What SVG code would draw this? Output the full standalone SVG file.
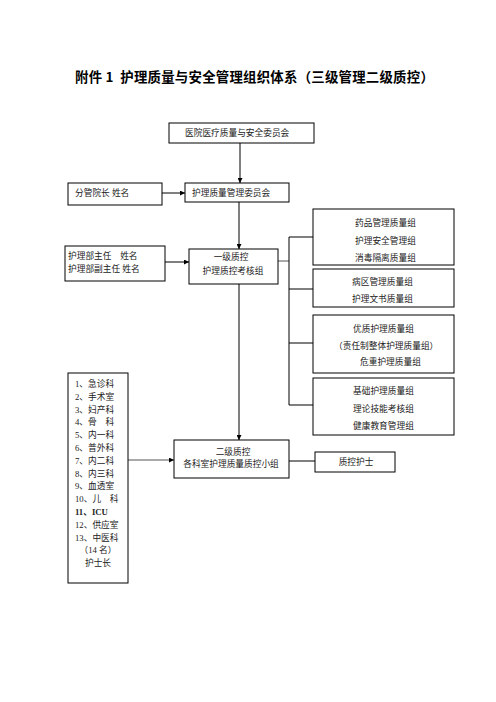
<svg xmlns="http://www.w3.org/2000/svg" width="496" height="702" viewBox="0 0 496 702">
<style>
.box{fill:#fff;stroke:#000;stroke-width:1}
.t{font-family:"Liberation Serif","Noto Sans CJK SC",serif;font-size:8.7px;fill:#222;dominant-baseline:central}
.c{text-anchor:middle}
.ln{stroke:#000;stroke-width:1;fill:none}
.lg{stroke:#555;stroke-width:1;fill:none}
.title{font-family:"Noto Sans CJK SC","Liberation Sans",sans-serif;font-size:13.4px;font-weight:bold;fill:#000;letter-spacing:0.25px}
</style>
<defs>
<marker id="ah" viewBox="0 0 10 10" refX="10" refY="5" markerWidth="5" markerHeight="5" orient="auto" markerUnits="userSpaceOnUse">
<path d="M0,0 L10,5 L0,10 z" fill="#000"/>
</marker>
</defs>
<rect width="496" height="702" fill="#fff"/>
<text class="title" x="75" y="82" xml:space="preserve">附件 1  护理质量与安全管理组织体系（三级管理二级质控）</text>

<g id="connectors">
<line class="ln" x1="240" y1="143" x2="240" y2="183" marker-end="url(#ah)"/>
<line class="ln" x1="162" y1="193" x2="185" y2="193" marker-end="url(#ah)"/>
<line class="ln" x1="239" y1="202" x2="239" y2="249" marker-end="url(#ah)"/>
<line class="ln" x1="165" y1="262" x2="189" y2="262" marker-end="url(#ah)"/>
<line class="lg" x1="278" y1="261" x2="289" y2="261"/>
<polyline class="ln" points="313,237 289,237 289,405 313,405"/>
<line class="ln" x1="289" y1="289" x2="313" y2="289"/>
<line class="ln" x1="289" y1="343" x2="313" y2="343"/>
<line class="ln" x1="239" y1="284" x2="239" y2="440" marker-end="url(#ah)"/>
<line class="lg" x1="128" y1="460" x2="174" y2="460" marker-end="url(#ah)"/>
<line class="ln" x1="289" y1="461" x2="315" y2="461"/>
</g>

<g id="n-hospital">
<rect class="box" x="169" y="123" width="145" height="20"/>
<text class="t" x="185" y="133">医院医疗质量与安全委员会</text>
</g>
<g id="n-vp">
<rect class="box" x="68" y="183" width="94" height="22"/>
<text class="t" x="75" y="193">分管院长 姓名</text>
</g>
<g id="n-committee">
<rect class="box" x="185" y="183" width="104" height="19"/>
<text class="t" x="192" y="192.5">护理质量管理委员会</text>
</g>
<g id="n-director">
<rect class="box" x="65" y="246" width="100" height="35"/>
<text class="t" x="68" y="256" xml:space="preserve">护理部主任    姓名</text>
<text class="t" x="68" y="269">护理部副主任 姓名</text>
</g>
<g id="n-level1">
<rect class="box" x="189" y="249" width="89" height="35"/>
<text class="t c" x="231" y="257">一级质控</text>
<text class="t c" x="233" y="271">护理质控考核组</text>
</g>
<g id="n-groupA">
<rect class="box" x="313" y="209" width="141" height="56"/>
<text class="t" x="355" y="223">药品管理质量组</text>
<text class="t" x="355" y="241">护理安全管理组</text>
<text class="t" x="355" y="258">消毒隔离质量组</text>
</g>
<g id="n-groupB">
<rect class="box" x="313" y="269" width="141" height="38"/>
<text class="t" x="352" y="282">病区管理质量组</text>
<text class="t" x="352" y="299">护理文书质量组</text>
</g>
<g id="n-groupC">
<rect class="box" x="313" y="315" width="141" height="58"/>
<text class="t" x="353" y="329">优质护理质量组</text>
<text class="t" x="334" y="346">（责任制整体护理质量组）</text>
<text class="t" x="360" y="362">危重护理质量组</text>
</g>
<g id="n-groupD">
<rect class="box" x="313" y="378" width="141" height="57"/>
<text class="t" x="353" y="391">基础护理质量组</text>
<text class="t" x="353" y="409">理论技能考核组</text>
<text class="t" x="353" y="426">健康教育管理组</text>
</g>
<g id="n-depts">
<rect class="box" x="68" y="373" width="60" height="210"/>
<text class="t" x="75" y="384">1、急诊科</text>
<text class="t" x="75" y="396.8">2、手术室</text>
<text class="t" x="75" y="409.6">3、妇产科</text>
<text class="t" x="75" y="422.4" xml:space="preserve">4、骨    科</text>
<text class="t" x="75" y="435.2">5、内一科</text>
<text class="t" x="75" y="448">6、普外科</text>
<text class="t" x="75" y="460.8">7、内二科</text>
<text class="t" x="75" y="473.6">8、内三科</text>
<text class="t" x="75" y="486.4">9、血透室</text>
<text class="t" x="75" y="499.2" xml:space="preserve">10、儿    科</text>
<text class="t" x="75" y="512" font-weight="bold">11、ICU</text>
<text class="t" x="75" y="524.8">12、供应室</text>
<text class="t" x="75" y="537.6">13、中医科</text>
<text class="t c" x="98" y="550.4">（14 名）</text>
<text class="t c" x="98" y="563.2">护士长</text>
</g>
<g id="n-level2">
<rect class="box" x="174" y="440" width="115" height="38"/>
<text class="t c" x="233" y="452">二级质控</text>
<text class="t c" x="231" y="464">各科室护理质量质控小组</text>
</g>
<g id="n-nurse">
<rect class="box" x="315" y="452" width="80" height="20"/>
<text class="t c" x="356" y="462">质控护士</text>
</g>
</svg>
